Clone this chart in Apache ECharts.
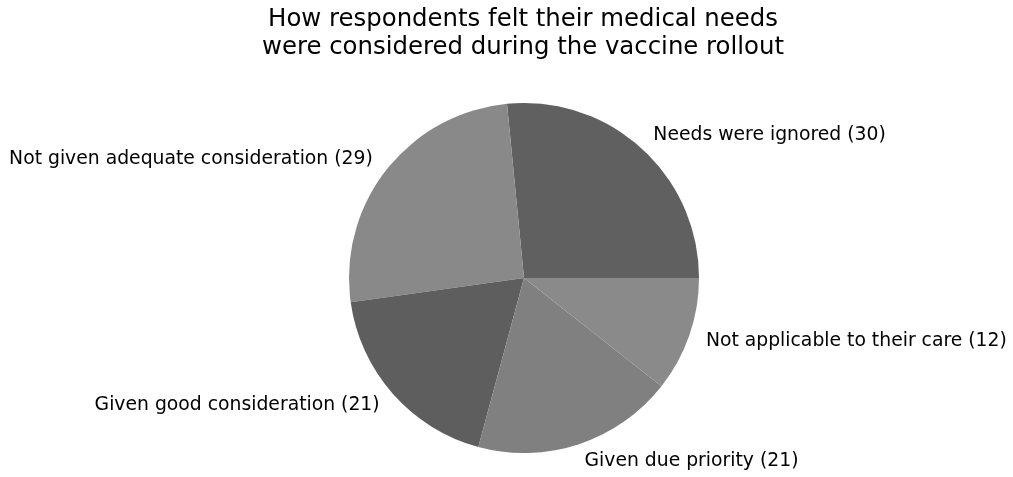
<!DOCTYPE html>
<html>
<head>
<meta charset="utf-8">
<script src="https://cdn.jsdelivr.net/npm/echarts@6/dist/echarts.min.js"></script>
<style>
  html, body { margin: 0; padding: 0; background: #fff; }
  #chart { width: 1013px; height: 477px; }
</style>
</head>
<body>
<div id="chart"></div>
<script>
// slices in drawing order, counter-clockwise from 3 o'clock
const categories = [
  'Needs were ignored',
  'Not given adequate consideration',
  'Given good consideration',
  'Given due priority',
  'Not applicable to their care'
];
const counts = [30, 29, 21, 21, 12];
const sliceColors = ['#606060', '#898989', '#5e5e5e', '#808080', '#8a8a8a'];

const chart = echarts.init(document.getElementById('chart'));

const option = {
  backgroundColor: '#fff',
  animation: false,
  title: {
    text: 'How respondents felt their medical needs\nwere considered during the vaccine rollout',
    left: 518,
    top: 1,
    textAlign: 'center',
    textStyle: {
      fontFamily: 'DejaVu Sans',
      fontSize: 24.4,
      fontWeight: 'normal',
      color: '#000',
      lineHeight: 28
    }
  },
  series: [{
    type: 'pie',
    center: [524, 278],
    radius: [0, 175],
    startAngle: 0,
    clockwise: false,
    avoidLabelOverlap: false,
    label: {
      show: true,
      position: 'outside',
      fontFamily: 'DejaVu Sans',
      fontSize: 18.8,
      color: '#000',
      distanceToLabelLine: 0,
      formatter: p => p.name + ' (' + p.value + ')'
    },
    labelLine: { show: false, length: 17.5, length2: 0 },
    itemStyle: { borderWidth: 0 },
    emphasis: { disabled: true },
    data: categories.map((c, i) => ({
      name: c,
      value: counts[i],
      itemStyle: { color: sliceColors[i] }
    }))
  }]
};

chart.setOption(option);
</script>
</body>
</html>
